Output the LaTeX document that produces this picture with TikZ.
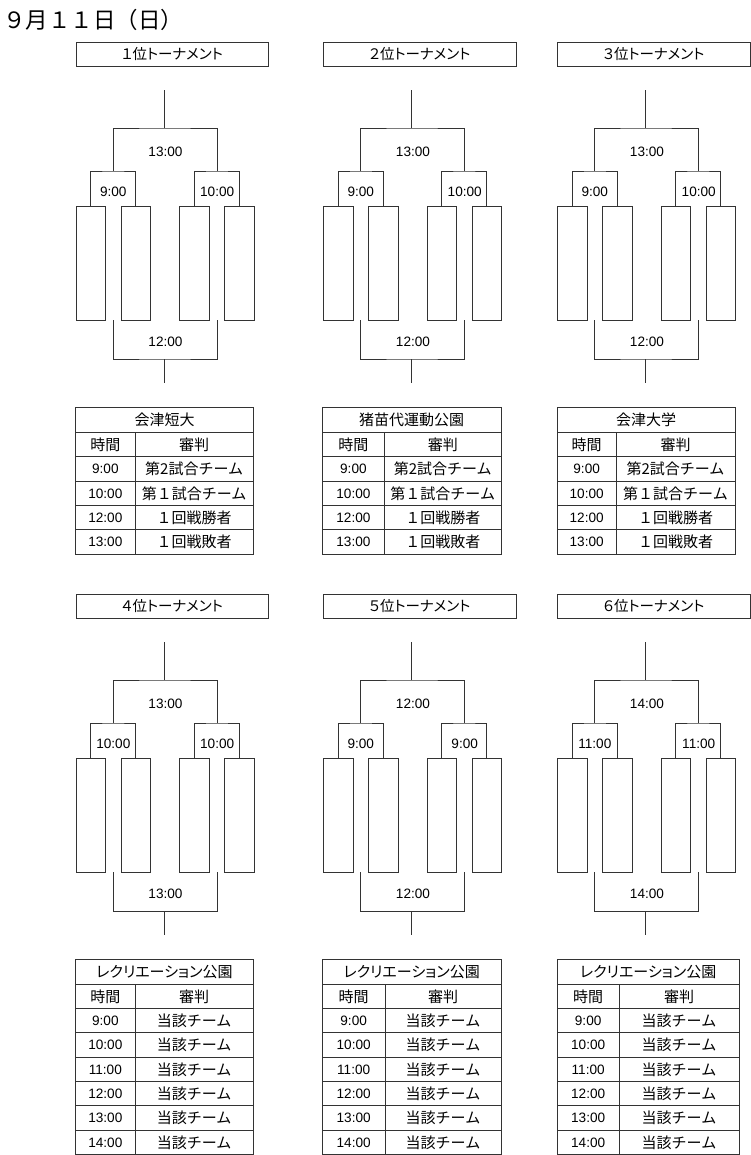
\documentclass[tikz,border=0pt]{standalone}
\usepackage{fontspec}
\setmainfont{Liberation Sans}
\newfontfamily\jp{Noto Sans CJK JP}
\newfontfamily\jpp{Noto Sans CJK JP}[RawFeature=+palt]
\tikzset{
  ln/.style={draw=black!80, line width=0.8pt},
  team/.style={ln, rectangle, minimum width=29.3pt, minimum height=114pt, inner sep=0pt, anchor=north west},
  titlebox/.style={ln, rectangle, minimum width=192.3pt, minimum height=24.6pt, inner sep=0pt, anchor=north west, font=\jpp\fontsize{14.5}{14.5}\selectfont},
  tm/.style={font=\fontsize{13.6}{13.6}\selectfont, inner sep=0pt},
  jt/.style={font=\jp\fontsize{15}{15}\selectfont, inner sep=0pt},
  jtt/.style={font=\jpp\fontsize{15}{15}\selectfont, inner sep=0pt},
}
% #1 id, #2 dx, #3 dy, #4 title, #5 top time, #6 left time, #7 right time, #8 bottom time
\newcommand\mypanel[8]{%
\begin{scope}[shift={(#2,#3)}]
  \node[titlebox] (#1title) at (75.7,41.7) {#4};
  \node[team] (#1a) at (75.7,206) {};
  \node[team] (#1b) at (120.7,206) {};
  \node[team] (#1c) at (179.3,206) {};
  \node[team] (#1d) at (224.3,206) {};
  \coordinate (#1L) at (113.3,171);
  \coordinate (#1R) at (217.2,171);
  \coordinate (#1M) at (164.3,128);
  \coordinate (#1top) at (164.3,90);
  \coordinate (#1BL) at (113.3,320);
  \coordinate (#1BR) at (217.2,320);
  \coordinate (#1BM) at (164.3,359);
  \coordinate (#1Bend) at (164.3,383);
  \draw[ln] (#1a.north) |- (#1L) -| (#1b.north);
  \draw[ln] (#1c.north) |- (#1R) -| (#1d.north);
  \draw[ln] (#1L) |- (#1M) -| (#1R);
  \draw[ln] (#1M) -- (#1top);
  \draw[ln] (#1BL) |- (#1BM) -| (#1BR);
  \draw[ln] (#1BM) -- (#1Bend);
  \node[tm] (#1tt) at (165.5,152) {#5};
  \node[tm] (#1tl) at (113.3,191.5) {#6};
  \node[tm] (#1tr) at (217.2,191.5) {#7};
  \node[tm] (#1tb) at (165.5,342) {#8};
\end{scope}}
% #1 id, #2 dy, #3 left, #4 right, #5 divider, #6 title, #7 rows, #8 number of rows, #9 title style
\newcommand\mytable[9]{%
\begin{scope}[shift={(0,#2)}]
  \node[#9] (#1title) at ({(#3+#4)/2},420.2) {#6};
  \node[jt] (#1h1) at ({(#3+#5)/2},444.7) {時間};
  \node[jt] (#1h2) at ({(#5+#4)/2},444.7) {審判};
  \foreach \ta/\jb [count=\rr] in {#7} {
    \node[tm] (#1t\rr) at ({(#3+#5)/2},{432.3+24.35*\rr+12.4}) {\ta};
    \node[jt] (#1j\rr) at ({(#5+#4)/2},{432.3+24.35*\rr+12.4}) {\jb};
  }
  \foreach \rr in {0,...,#8} {
    \draw[ln] (#3,{432.3+24.35*\rr}) -- (#4,{432.3+24.35*\rr});
  }
  \draw[ln] (#5,432.3) -- (#5,{432.3+24.35*(#8+1)});
  \draw[ln] (#3,407.3) rectangle (#4,{432.3+24.35*(#8+1)});
\end{scope}}
\begin{document}
\begin{tikzpicture}[x=1pt,y=-1pt]
  \useasboundingbox (0,0) rectangle (750,1155);
  \node[anchor=west, inner sep=0pt, font=\jp\fontsize{22.5}{22.5}\selectfont] (date) at (3,20) {９月１１日（日）};

  \mypanel{p1}{0}{0}{１位トーナメント}{13:00}{9:00}{10:00}{12:00}
  \mypanel{p2}{247.5}{0}{２位トーナメント}{13:00}{9:00}{10:00}{12:00}
  \mypanel{p3}{481.5}{0}{３位トーナメント}{13:00}{9:00}{10:00}{12:00}
  \mypanel{p4}{0}{552}{４位トーナメント}{13:00}{10:00}{10:00}{13:00}
  \mypanel{p5}{247.5}{552}{５位トーナメント}{12:00}{9:00}{9:00}{12:00}
  \mypanel{p6}{481.5}{552}{６位トーナメント}{14:00}{11:00}{11:00}{14:00}

  \mytable{q1}{0}{75.7}{253.3}{135}{会津短大}{9:00/第2試合チーム,10:00/第１試合チーム,12:00/１回戦勝者,13:00/１回戦敗者}{4}{jt}
  \mytable{q2}{0}{322.3}{501}{384.5}{猪苗代運動公園}{9:00/第2試合チーム,10:00/第１試合チーム,12:00/１回戦勝者,13:00/１回戦敗者}{4}{jt}
  \mytable{q3}{0}{557.3}{735}{616}{会津大学}{9:00/第2試合チーム,10:00/第１試合チーム,12:00/１回戦勝者,13:00/１回戦敗者}{4}{jt}
  \mytable{q4}{551.7}{75.7}{253.3}{135}{レクリエーション公園}{9:00/当該チーム,10:00/当該チーム,11:00/当該チーム,12:00/当該チーム,13:00/当該チーム,14:00/当該チーム}{6}{jtt}
  \mytable{q5}{551.7}{322.3}{501}{385}{レクリエーション公園}{9:00/当該チーム,10:00/当該チーム,11:00/当該チーム,12:00/当該チーム,13:00/当該チーム,14:00/当該チーム}{6}{jtt}
  \mytable{q6}{551.7}{557.3}{739}{619}{レクリエーション公園}{9:00/当該チーム,10:00/当該チーム,11:00/当該チーム,12:00/当該チーム,13:00/当該チーム,14:00/当該チーム}{6}{jtt}
\end{tikzpicture}
\end{document}
